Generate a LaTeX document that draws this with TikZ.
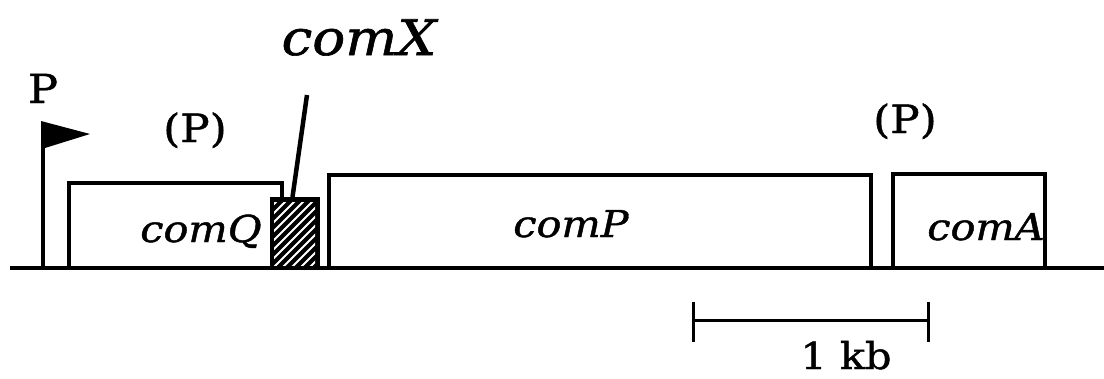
\documentclass[tikz,border=0pt]{standalone}
\usepackage{fontspec}
\setmainfont{DejaVu Serif}[FakeStretch=1.12, FakeBold=1.2]
\begin{document}
\begin{tikzpicture}[x=1pt,y=-1pt,
  gene/.style={draw, line width=3.5pt, inner sep=0pt, minimum width=#1},
  lbl/.style={anchor=base, inner sep=0pt, font=\fontsize{37}{42}\selectfont\itshape},
  plbl/.style={anchor=base, inner sep=0pt, font=\fontsize{39}{44}\selectfont},
  thick line/.style={line width=4pt}]
\useasboundingbox (0,0) rectangle (1104,378);
% genes
\node[gene=213pt, minimum height=85pt] (comQbox) at (175.5,225.5) {};
\node[gene=542pt, minimum height=93pt] (comPbox) at (600,221.5) {};
\node[gene=152pt, minimum height=94pt] (comAbox) at (969,221) {};
\node[draw, fill=black, line width=1pt, inner sep=0pt, minimum width=49pt, minimum height=70pt] (comXbox) at (294.5,232.5) {};
\begin{scope}
  \clip (274,202) rectangle (315,265);
  \foreach \i in {0,...,18}{
    \draw[white, line width=1.8pt] (190+\i*9,270) -- (190+\i*9+75,195);
  }
\end{scope}
% baseline
\coordinate (lineL) at (10,268);
\coordinate (lineR) at (1104,268);
\draw[thick line] (lineL) -- (lineR);
% promoter flag
\coordinate (poleB) at (43,268);
\coordinate (poleT) at (43,122);
\draw[thick line] (poleB) -- (poleT);
\fill (41,121) -- (90,134) -- (45,148) -- cycle;
\node[plbl, font=\fontsize{40}{46}\selectfont] (P) at (43,103) {P};
% comX pointer
\coordinate (comXtip) at (307,95);
\draw[line width=4.5pt] (comXbox.north) ++(-2,0) coordinate (comXfoot) -- (comXtip);
\node[lbl, font=\fontsize{49}{56}\selectfont\itshape] (comX) at (359,55) {comX};
% labels
\node[plbl] (P1) at (195,142) {(P)};
\node[plbl] (P2) at (905,133) {(P)};
\node[lbl] (comQ) at (201,242) {comQ};
\node[lbl] (comP) at (571,237) {comP};
\node[lbl] (comA) at (986,240) {comA};
% scale bar
\coordinate (sL) at (693,320);
\coordinate (sR) at (928,320);
\draw[line width=3pt] (sL) -- (sR);
\draw[line width=3pt] (693,302) -- (693,342);
\draw[line width=3pt] (928,302) -- (928,342);
\node[plbl, font=\fontsize{37}{44}\selectfont] (kb) at (846,369) {1 kb};
\end{tikzpicture}
\end{document}
